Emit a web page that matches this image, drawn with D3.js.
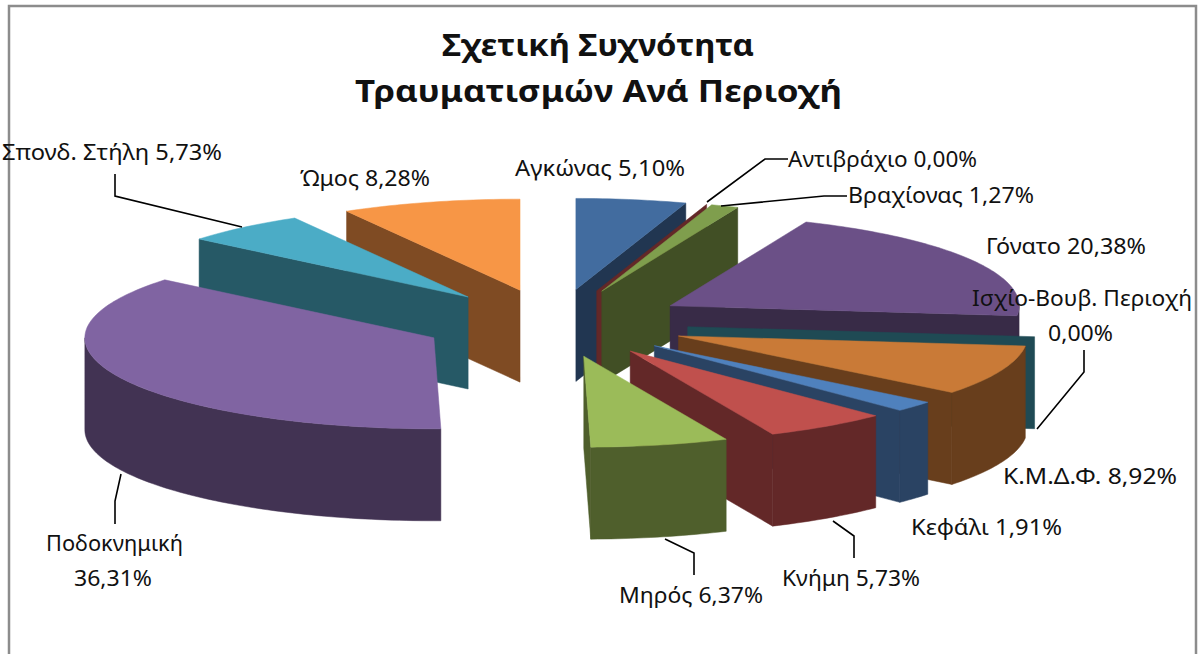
<!DOCTYPE html>
<html lang="el">
<head>
<meta charset="utf-8">
<title>Σχετική Συχνότητα Τραυματισμών Ανά Περιοχή</title>
<script src="https://cdn.jsdelivr.net/npm/d3@7/dist/d3.min.js"></script>
<style>
html,body{margin:0;padding:0;background:#fff;overflow:hidden}
svg{display:block}
text{font-family:"Noto Sans","Open Sans",sans-serif;fill:#111}
</style>
</head>
<body>
<svg id="chart" width="1198" height="654"></svg>
<script>
// ---- data ----
const categories = ["Αγκώνας","Αντιβράχιο","Βραχίονας","Γόνατο","Ισχίο-Βουβ. Περιοχή","Κ.Μ.Δ.Φ.","Κεφάλι","Κνήμη","Μηρός","Ποδοκνημική","Σπονδ. Στήλη","Ώμος"];
const values = [5.10,0.00,1.27,20.38,0.00,8.92,1.91,5.73,6.37,36.31,5.73,8.28];
const titleLines = ["Σχετική Συχνότητα","Τραυματισμών Ανά Περιοχή"];

// ---- styles ----
const topColors  = ["#426C9F","#8E3A38","#7F9E4D","#6B5087","#2F7A8C","#C97A37","#4F81BD","#C0504D","#9BBB59","#8064A2","#4BACC6","#F79646"];
const wallColors = ["#213651","#632828","#414F25","#382B47","#1F4A54","#683E1C","#2A4363","#632828","#4F5F2C","#423353","#265966","#7F4B23"];

// ---- annotation layout: [left, right, baseline] per text line, and leader polylines ----
const labelLayout = [
  [[515,685,176]],
  [[788,977,167]],
  [[848,1034,203]],
  [[986,1146,254]],
  [[972,1192,306],[1048,1113,341]],
  [[1003,1177,484]],
  [[911,1062,535]],
  [[782,920,586]],
  [[619,763,603]],
  [[46,183,551],[74,152,586]],
  [[2,222,160]],
  [[300,430,186]]
];
const leaderLayout = [
  null,
  [[707,202],[765,159],[788,159]],
  [[721,206],[824,196],[847,196]],
  null,
  [[1084,350],[1084,372],[1037,429]],
  null,
  null,
  [[833,521],[854,536],[854,558]],
  [[665,539],[694,553],[694,575]],
  [[121,474],[115,501],[115,524]],
  [[115,174],[115,196],[242,227]],
  null
];

// ---- geometry of the exploded 3D pie ----
const W = 1198, H = 654;
const cx = 554.5, cy = 323;     // pie centre on screen
const explodeX = 134, explodeY = 34;
const radiusX = 349, radiusY = 91;
const depth = 92;

const px = d3.scaleLinear().domain([-1,1]).range([-radiusX,radiusX]);
const py = d3.scaleLinear().domain([-1,1]).range([-radiusY,radiusY]);
const ex = d3.scaleLinear().domain([-1,1]).range([cx-explodeX,cx+explodeX]);
const ey = d3.scaleLinear().domain([-1,1]).range([cy-explodeY,cy+explodeY]);

const pie = d3.pie().sort(null).value(d => d).startAngle(0).endAngle(2*Math.PI);
const slices = pie(values).map((a,i) => {
  const mid = (a.startAngle + a.endAngle) / 2;
  const apex = [ex(Math.sin(mid)), ey(-Math.cos(mid))];
  return {i, a0:a.startAngle, a1:a.endAngle, mid, apex};
});

const rim = (s,t) => [s.apex[0] + px(Math.sin(t)), s.apex[1] + py(-Math.cos(t))];
const rimRange = (s,t0,t1) => {
  const n = Math.max(1, Math.ceil((t1-t0)/0.02));
  return d3.range(n+1).map(k => rim(s, t0 + (t1-t0)*k/n));
};
const down = p => [p[0], p[1]+depth];
const line = d3.line();
const closed = pts => line(pts) + "Z";

const svg = d3.select("#chart");
svg.append("rect").attr("width",W).attr("height",H).attr("fill","#fff");

// chart frame (open at the bottom, the picture is cropped there)
svg.append("path").attr("d", line([[9,H],[9,6],[1196,6],[1196,H]]))
   .attr("fill","none").attr("stroke","#8c8c8c").attr("stroke-width",2.5);

// painter's order: far slices first
const ordered = slices.slice().sort((a,b) => d3.ascending(a.apex[1], b.apex[1]));
const g = svg.selectAll("g.slice").data(ordered).join("g").attr("class","slice");

g.each(function(s){
  const el = d3.select(this);
  const wall = wallColors[s.i], top = topColors[s.i];
  const addWall = pts => el.append("path").attr("d",closed(pts))
      .attr("fill",wall).attr("stroke",wall).attr("stroke-width",0.5);
  // radial faces turned to the viewer
  if (Math.sin(s.a0) < 0 && s.a1 > s.a0) {
    const p = rim(s,s.a0);
    addWall([s.apex,p,down(p),down(s.apex)]);
  }
  if (Math.sin(s.a1) > 0) {
    const p = rim(s,s.a1);
    addWall([s.apex,p,down(p),down(s.apex)]);
  }
  // curved outer wall: only the near half of the rim
  const t0 = Math.max(s.a0, Math.PI/2), t1 = Math.min(s.a1, 3*Math.PI/2);
  if (t1 > t0) {
    const arc = rimRange(s,t0,t1);
    addWall(arc.concat(arc.map(down).reverse()));
  }
  // top face
  if (s.a1 > s.a0) {
    el.append("path").attr("d",closed([s.apex].concat(rimRange(s,s.a0,s.a1))))
      .attr("fill",top).attr("stroke",top).attr("stroke-width",0.5);
  }
});

// leader lines
svg.selectAll("path.leader").data(leaderLayout.filter(Boolean)).join("path")
   .attr("class","leader").attr("d",d => line(d))
   .attr("fill","none").attr("stroke","#000").attr("stroke-width",1.6);

// data labels
const fmt = v => v.toFixed(2).replace(".",",") + "%";
const labelLines = categories.map((c,i) =>
  labelLayout[i].length > 1 ? [c, fmt(values[i])] : [c + " " + fmt(values[i])]);

categories.forEach((c,i) => {
  labelLines[i].forEach((txt,k) => {
    const [l,r,b] = labelLayout[i][k];
    svg.append("text").attr("x",l).attr("y",b)
       .attr("font-size",21)
       .attr("textLength",r-l).attr("lengthAdjust","spacingAndGlyphs")
       .text(txt);
  });
});

// title
const titleLayout = [[442,754,56],[355,842,102]];
titleLines.forEach((t,k) => {
  const [l,r,b] = titleLayout[k];
  svg.append("text").attr("x",l).attr("y",b)
     .attr("font-size",31).attr("font-weight",700)
     .attr("textLength",r-l).attr("lengthAdjust","spacingAndGlyphs")
     .text(t);
});
</script>
</body>
</html>
